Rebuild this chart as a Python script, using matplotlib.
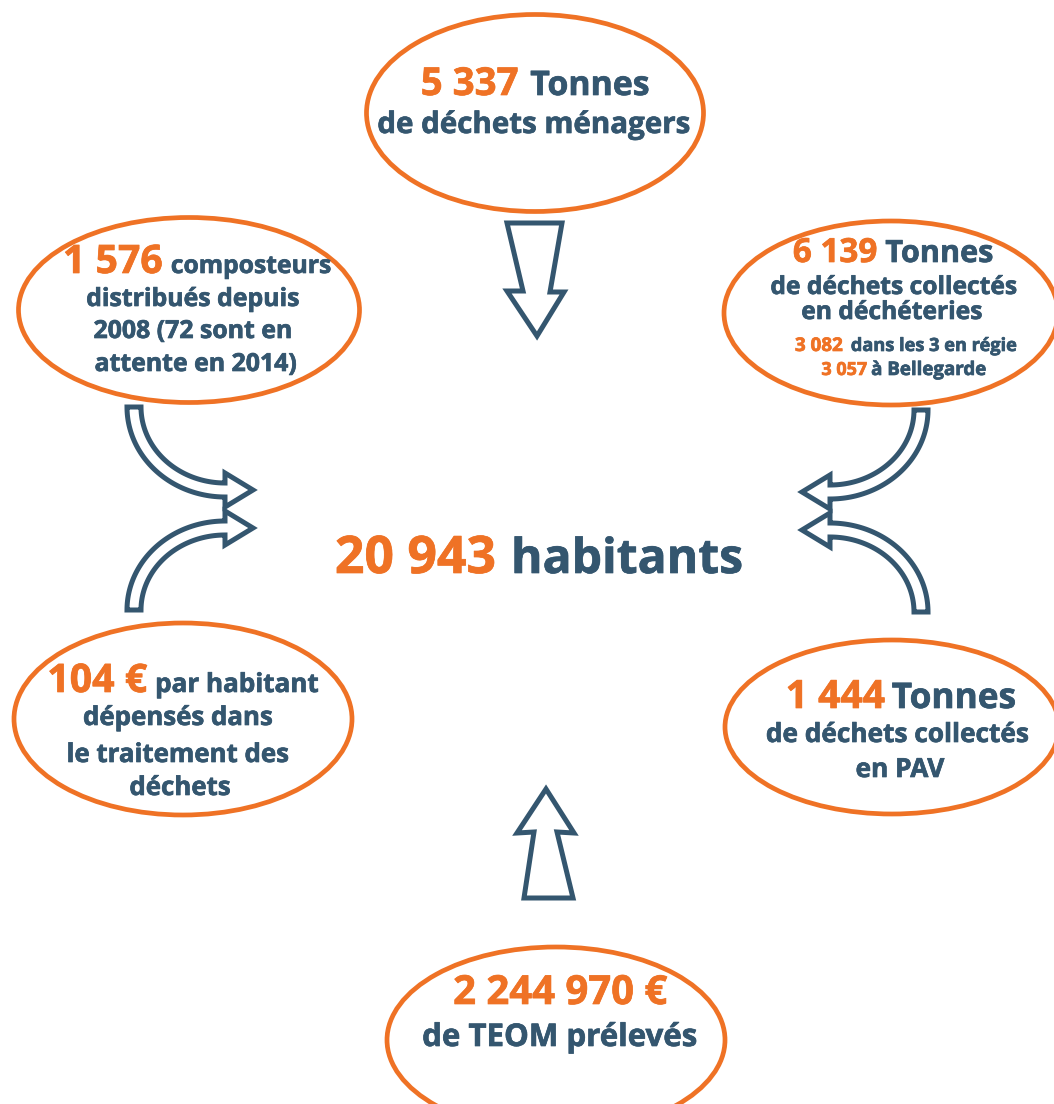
import numpy as np
import matplotlib
matplotlib.use("Agg")
import matplotlib.pyplot as plt
import matplotlib.patheffects as pe
from matplotlib.patches import Ellipse, Polygon

ORANGE = "#EF7225"
BLUE = "#34566F"
FONT = ["Open Sans", "DejaVu Sans"]
SCALE = 1.02  # petite correction de taille pour Open Sans

population = "20 943"
population_label = "habitants"
numbers = ["5 337", "1 576", "6 139", "104 €", "1 444", "2 244 970 €"]
heads = ["Tonnes", "composteurs", "Tonnes", "par habitant", "Tonnes", ""]
sub_lines = [
    ["de déchets ménagers"],
    ["distribués depuis", "2008 (72 sont en", "attente en 2014)"],
    ["de déchets collectés", "en déchéteries"],
    ["dépensés dans", "le traitement des", "déchets"],
    ["de déchets collectés", "en PAV"],
    ["de TEOM prélevés"],
]
decheterie_values = ["3 082", "3 057"]
decheterie_labels = ["dans les 3 en régie", "à Bellegarde"]

fig = plt.figure(figsize=(10.54, 11.04), dpi=100)
ax = fig.add_axes([0, 0, 1, 1])
ax.set_xlim(0, 1054)
ax.set_ylim(1104, 0)
ax.axis("off")
renderer = fig.canvas.get_renderer()


def text_width(s, size):
    t = ax.text(0, 0, s, fontsize=size, fontweight="bold", family=FONT)
    w = t.get_window_extent(renderer).width
    t.remove()
    return w


def fit(s, target, base=20):
    """taille de police pour que s fasse environ target pixels de large"""
    return SCALE * base * target / text_width(s, base)


def put(s, x, y, size, color, ha="left"):
    ax.text(x, y, s, fontsize=size, fontweight="bold", family=FONT,
            color=color, ha=ha, va="baseline",
            path_effects=[pe.withStroke(linewidth=0.5, foreground=color)])


def two_part(a, a_col, a_w, b, b_col, b_w, cx, y, gap):
    sa, sb = fit(a, a_w), fit(b, b_w)
    wa, wb = text_width(a, sa), text_width(b, sb)
    x0 = cx - (wa + gap + wb) / 2
    put(a, x0, y, sa, a_col)
    put(b, x0 + wa + gap, y, sb, b_col)


# ellipses : (cx, cy, largeur, hauteur)
ellipses = [(535, 113, 337, 197), (189, 310, 341, 185), (891, 313, 334, 184),
            (183, 719, 338, 192), (892, 727, 334, 174), (556, 1040, 338, 186)]
for cx, cy, w, h in ellipses:
    ax.add_patch(Ellipse((cx, cy), w, h, fill=False, ec=ORANGE, lw=3.4))

# premières lignes : (largeur nombre, largeur titre, centre x, ligne de base, écart)
first_rows = [(96, 117, 535, 95, 12), (98, 157, 197, 273, 8),
              (83, 106, 893, 262, 8), (98, 160, 183, 692, 8),
              (97, 122, 901, 708, 7), (210, 0, 560, 1004, 0)]
for num, head, (nw, hw, cx, by, gap) in zip(numbers, heads, first_rows):
    if head:
        two_part(num, ORANGE, nw, head, BLUE, hw, cx, by, gap)
    else:
        put(num, cx, by, fit(num, nw), ORANGE, ha="center")

# lignes suivantes : centres x, lignes de base, ligne de référence et sa largeur
sub_layout = [
    ([534], [133], 0, 307),
    ([193, 193, 196], [306, 338, 371], 0, 209),
    ([894, 892], [294, 319], 0, 242),
    ([178, 178, 180], [725, 762, 795], 1, 218),
    ([897, 900], [742, 777], 0, 258),
    ([560], [1046], 0, 270),
]
for lines, (xs, ys, ref, ref_w) in zip(sub_lines, sub_layout):
    size = fit(lines[ref], ref_w)
    for s, x, y in zip(lines, xs, ys):
        put(s, x, y, size, BLUE, ha="center")

# détail des déchèteries
for v, lab, (vw, lw_, cx, y, gap) in zip(decheterie_values, decheterie_labels,
                                         [(47, 163, 906, 351, 8),
                                          (45, 113, 904, 375, 4)]):
    two_part(v, ORANGE, vw, lab, BLUE, lw_, cx, y, gap)

# texte central
two_part(population, ORANGE, 158, population_label, BLUE, 227, 539, 573, 15)

# flèches droites
arrow_kw = dict(closed=True, fc="white", ec=BLUE, lw=3.6, joinstyle="miter")
down = [(507, 223), (562, 223), (550, 292), (564, 292), (537, 336),
        (507, 291), (523, 291)]
up = [(546, 789), (574, 833), (557, 832), (573, 898), (524, 898),
      (534, 832), (517, 833)]
ax.add_patch(Polygon(down, **arrow_kw))
ax.add_patch(Polygon(up, **arrow_kw))


def curved_arrow(acx, acy, rx, ry, t0, t1, tip_dx, w=7, head=17):
    ts = np.radians(np.linspace(t0, t1, 60))
    inner = np.c_[acx + (rx - w) * np.cos(ts), acy + (ry - w) * np.sin(ts)]
    outer = np.c_[acx + (rx + w) * np.cos(ts), acy + (ry + w) * np.sin(ts)]
    ex, ey = acx + rx * np.cos(ts[-1]), acy + ry * np.sin(ts[-1])
    s = np.sign(inner[-1][1] - ey)
    tip = [(ex, ey + s * head), (ex + tip_dx, ey), (ex, ey - s * head)]
    pts = np.vstack([inner, tip, outer[::-1]])
    ax.add_patch(Polygon(pts, **arrow_kw))


curved_arrow(225, 407, 91, 83, 180, 90, 28)
curved_arrow(225, 610, 91, 82, 180, 270, 28)
curved_arrow(830, 410, 91, 82, 0, 90, -28)
curved_arrow(830, 612, 91, 82, 0, -90, -28)

fig.savefig("out.png", dpi=100)
